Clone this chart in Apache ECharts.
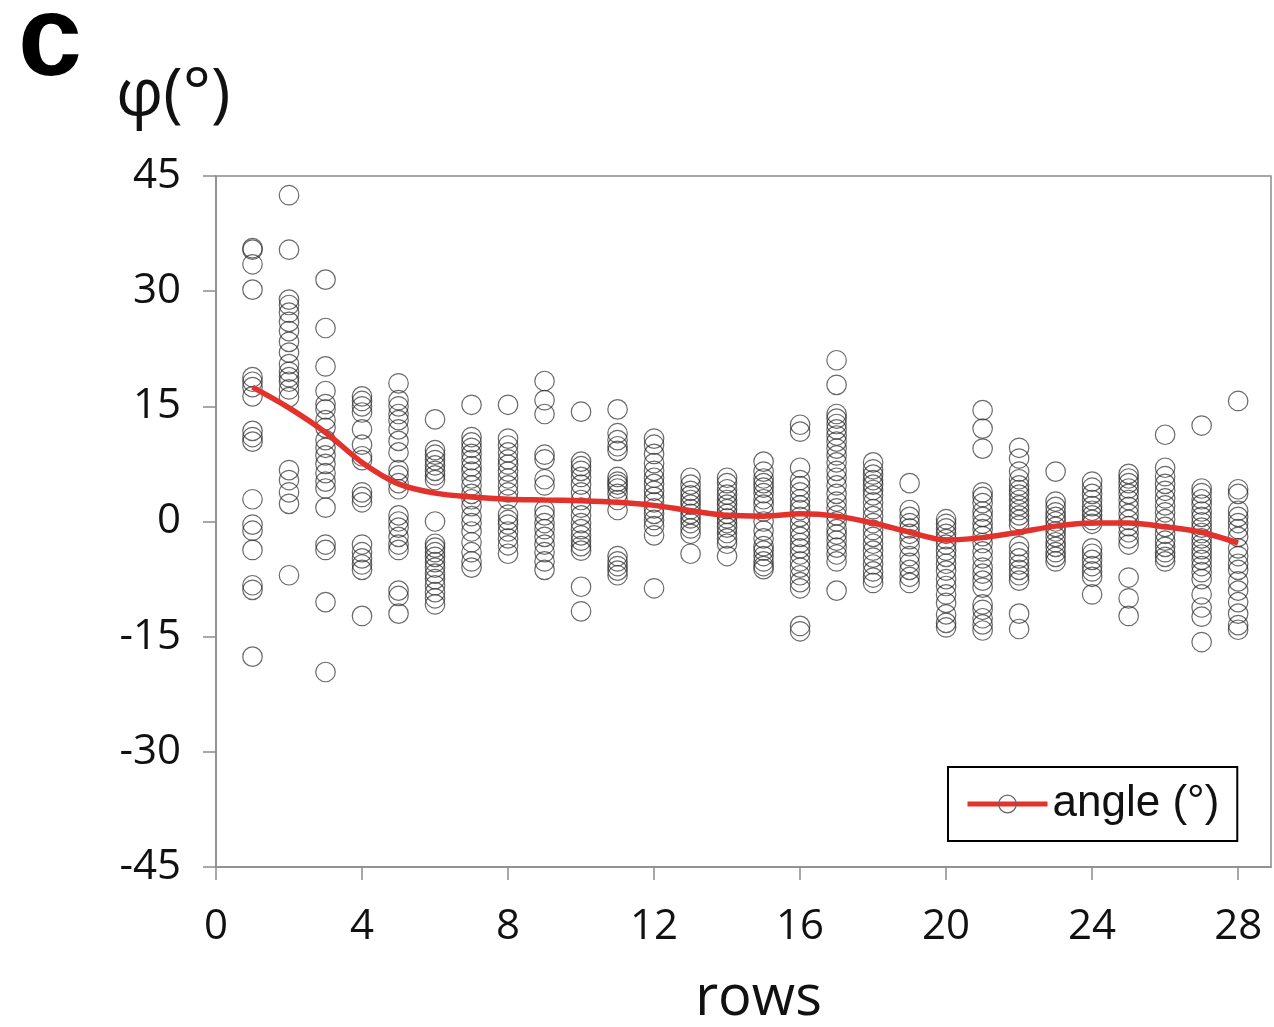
<!DOCTYPE html>
<html>
<head>
<meta charset="utf-8">
<script src="https://cdn.jsdelivr.net/npm/echarts@6/dist/echarts.min.js"></script>
<style>
  html, body { margin: 0; padding: 0; background: #fff; }
  #chart { width: 1274px; height: 1027px; }
</style>
</head>
<body>
<div id="chart"></div>
<script>
// ---- data ----
const rows = [1, 2, 3, 4, 5, 6, 7, 8, 9, 10, 11, 12, 13, 14, 15, 16, 17, 18, 19, 20, 21, 22, 23, 24, 25, 26, 27, 28];
const xTicks = [0, 4, 8, 12, 16, 20, 24, 28];
const yTicks = [-45, -30, -15, 0, 15, 30, 45];
// individual angle measurements (deg) per row
const phiByRow = [
  [35.6, 35.4, 33.5, 30.2, 18.8, 18.2, 17.5, 16.3, 11.8, 11.0, 10.4, 2.9, -0.4, -1.2, -3.7, -8.3, -8.9, -17.6],
  [42.5, 35.4, 28.9, 28.2, 27.2, 26.0, 24.8, 23.4, 22.0, 20.5, 19.5, 18.8, 18.2, 17.2, 16.2, 6.7, 5.4, 3.8, 2.3, -7.0],
  [31.5, 25.2, 20.2, 17.0, 15.3, 14.6, 13.2, 12.2, 10.6, 9.6, 8.6, 7.5, 6.3, 5.2, 4.3, 1.8, -3.0, -3.7, -10.5, -19.6],
  [16.3, 15.7, 15.0, 14.2, 12.0, 10.0, 8.5, 8.0, 3.8, 3.2, 2.5, -3.0, -4.0, -4.8, -5.6, -6.3, -12.3],
  [18.0, 15.8, 15.0, 14.0, 13.2, 12.0, 10.5, 9.0, 6.7, 6.0, 5.0, 4.2, 0.8, 0.0, -0.8, -2.0, -3.0, -3.7, -9.0, -9.7, -12.0],
  [13.3, 9.3, 8.7, 8.0, 7.3, 6.6, 6.0, 5.4, 0.0, -2.9, -3.4, -4.0, -4.6, -5.3, -6.0, -6.8, -7.5, -8.3, -9.2, -10.0, -10.8],
  [15.2, 11.0, 10.3, 9.6, 8.8, 8.0, 7.2, 6.5, 5.6, 4.7, 3.6, 2.9, 2.0, 0.7, -0.2, -1.3, -2.7, -4.0, -5.2, -6.0],
  [15.2, 10.8, 9.9, 9.0, 8.1, 7.4, 6.5, 5.6, 4.7, 3.8, 2.9, 0.9, 0.2, -0.4, -1.3, -2.2, -3.1, -4.2],
  [18.3, 15.8, 14.0, 8.7, 8.1, 5.5, 4.7, 1.5, 0.8, -0.2, -1.0, -2.0, -3.0, -4.0, -5.2, -6.3],
  [14.3, 7.8, 7.2, 6.6, 5.8, 4.8, 3.8, 2.8, 1.8, 0.8, -0.2, -1.0, -1.8, -2.5, -3.2, -3.8, -8.5, -11.7],
  [14.6, 11.5, 10.6, 9.8, 9.2, 5.8, 5.2, 4.8, 4.3, 3.6, 2.8, 1.5, -4.5, -5.2, -5.8, -6.4, -7.0],
  [10.8, 10.0, 8.8, 7.6, 6.6, 5.7, 4.9, 4.0, 3.2, 2.5, 1.7, 1.0, 0.2, -0.6, -1.8, -8.7],
  [5.7, 4.8, 4.0, 3.4, 2.8, 2.2, 1.6, 1.0, 0.4, -0.2, -0.9, -1.6, -4.2],
  [5.7, 5.0, 4.2, 3.5, 2.8, 2.2, 1.6, 1.0, 0.4, -0.2, -0.8, -1.5, -2.2, -2.9, -4.5],
  [7.8, 6.5, 5.6, 5.0, 4.4, 3.7, 2.9, 2.2, 1.3, 0.0, -1.2, -2.2, -3.2, -3.8, -4.5, -5.2, -5.8, -6.2],
  [12.6, 11.7, 7.0, 5.4, 4.6, 3.8, 2.9, 2.1, 1.5, 0.6, -0.3, -1.2, -2.0, -2.8, -3.5, -4.3, -5.2, -6.0, -7.0, -7.9, -8.7, -13.6, -14.3],
  [21.0, 17.8, 14.0, 13.4, 12.7, 12.0, 11.2, 10.4, 9.5, 8.6, 7.7, 6.6, 5.7, 4.7, 3.6, 2.6, 1.7, 0.8, 0.0, -1.0, -1.7, -2.5, -3.4, -4.3, -5.2, -9.0],
  [7.7, 6.8, 6.1, 5.4, 4.8, 4.1, 3.4, 2.5, 1.6, 0.7, -0.2, -1.1, -2.0, -2.9, -3.8, -4.7, -5.6, -6.5, -7.3, -8.0],
  [5.0, 1.5, 0.6, -0.2, -0.9, -1.6, -2.3, -3.2, -4.5, -5.4, -6.3, -7.2, -8.0],
  [0.3, -0.3, -0.9, -1.6, -2.3, -3.0, -3.8, -4.6, -5.5, -6.4, -7.5, -8.4, -9.5, -10.6, -12.1, -13.2, -13.8],
  [14.5, 12.1, 9.5, 3.8, 3.2, 2.4, 1.3, 0.6, -0.3, -1.0, -1.9, -2.8, -3.9, -4.8, -6.0, -6.8, -7.7, -8.6, -10.8, -11.5, -12.6, -13.4, -14.2],
  [9.6, 8.2, 6.5, 5.5, 4.7, 4.1, 3.5, 2.8, 2.1, 1.5, 0.8, 0.2, -0.5, -3.2, -4.0, -4.8, -5.6, -6.3, -7.0, -7.7, -12.0, -14.0],
  [6.5, 2.6, 1.9, 1.2, 0.6, 0.0, -0.7, -1.3, -2.0, -2.7, -3.3, -4.0, -4.6, -5.2],
  [5.2, 4.4, 3.6, 2.8, 2.0, 1.4, 0.8, 0.2, -0.3, -3.5, -4.2, -5.0, -5.8, -6.5, -7.2, -9.5],
  [6.2, 5.6, 5.0, 4.3, 3.6, 2.8, 1.9, 1.0, 0.2, -0.6, -1.4, -2.2, -3.0, -7.3, -10.0, -12.3],
  [11.3, 7.0, 5.9, 4.9, 4.0, 3.0, 2.1, 1.2, 0.3, -0.7, -1.6, -2.5, -3.3, -4.0, -4.6, -5.2],
  [12.5, 4.3, 3.7, 2.9, 2.2, 1.3, 0.6, -0.1, -0.8, -1.5, -2.2, -2.9, -3.6, -4.3, -5.0, -5.8, -6.6, -7.5, -9.5, -11.2, -12.4, -15.7],
  [15.7, 4.2, 3.6, 1.4, 0.6, -0.2, -1.0, -2.0, -3.5, -4.5, -5.5, -6.3, -7.8, -9.0, -10.5, -12.0, -13.5, -14.1]
];
// mean angle per row (red curve)
const meanAngle = [17.5, 14.8, 11.6, 7.7, 4.9, 3.7, 3.2, 2.9, 2.8, 2.7, 2.5, 2.1, 1.4, 0.8, 0.7, 1.0, 0.7, -0.2, -1.4, -2.4, -2.1, -1.4, -0.6, -0.2, -0.2, -0.7, -1.4, -2.8];

// ---- build series data ----
const scatterData = [];
rows.forEach((r, i) => { phiByRow[i].forEach(v => scatterData.push([r, v])); });
const lineData = rows.map((r, i) => [r, meanAngle[i]]);

const axisGray = '#8c8c8c';
const tickFont = 'Open Sans';

const chart = echarts.init(document.getElementById('chart'), null, { renderer: 'canvas' });
chart.setOption({
  backgroundColor: '#ffffff',
  animation: false,
  title: [
    { text: 'c', left: 18, top: -14, padding: 0,
      textStyle: { fontFamily: 'Liberation Sans', fontWeight: 'bold', fontSize: 115, color: '#000' } },
    { text: 'φ(°)', left: 116, top: 63, padding: 0,
      textStyle: { fontFamily: tickFont, fontWeight: 'normal', fontSize: 66, color: '#111' } }
  ],
  grid: {
    left: 216, right: 3, top: 176, bottom: 160,
    outerBoundsMode: 'none', containLabel: false,
    show: true, borderColor: axisGray, borderWidth: 1.5, backgroundColor: 'transparent'
  },
  legend: {
    left: 948, top: 767,
    padding: [14, 18, 14, 17],
    borderColor: '#000', borderWidth: 2,
    itemWidth: 80, itemHeight: 22,
    data: ['angle (°)'],
    itemStyle: { color: 'rgba(0,0,0,0)', borderColor: '#666', borderWidth: 1.2 },
    lineStyle: { color: '#e2322b', width: 5 },
    textStyle: { fontFamily: 'Liberation Sans', fontSize: 44, color: '#111', lineHeight: 46 }
  },
  xAxis: {
    type: 'value', min: 0, max: 28.9,
    name: 'rows', nameLocation: 'middle', nameGap: 104,
    nameTextStyle: { fontFamily: tickFont, fontSize: 56, color: '#111', padding: [0, 0, 0, 30] },
    axisLine: { show: true, onZero: false, lineStyle: { color: axisGray, width: 1.5 } },
    axisTick: { show: true, inside: false, length: 13, customValues: xTicks, lineStyle: { color: axisGray, width: 1.5 } },
    axisLabel: { customValues: xTicks, margin: 39, fontFamily: tickFont, fontSize: 42, color: '#111' },
    splitLine: { show: false }
  },
  yAxis: {
    type: 'value', min: -45, max: 45, interval: 15,
    axisLine: { show: true, onZero: false, lineStyle: { color: axisGray, width: 1.5 } },
    axisTick: { show: true, inside: false, length: 13, customValues: yTicks, lineStyle: { color: axisGray, width: 1.5 } },
    axisLabel: { customValues: yTicks, margin: 35, fontFamily: tickFont, fontSize: 42, color: '#111' },
    splitLine: { show: false }
  },
  series: [
    {
      name: 'points', type: 'scatter', data: scatterData,
      symbol: 'circle', symbolSize: 19.5,
      itemStyle: { color: 'rgba(0,0,0,0)', borderColor: 'rgba(35,35,35,0.85)', borderWidth: 1.2 },
      z: 2
    },
    {
      name: 'angle (°)', type: 'line', data: lineData,
      smooth: 0.3, symbol: 'circle', showSymbol: false,
      lineStyle: { color: '#e2322b', width: 5.5 },
      itemStyle: { color: '#e2322b' },
      z: 3
    }
  ]
});
</script>
</body>
</html>
